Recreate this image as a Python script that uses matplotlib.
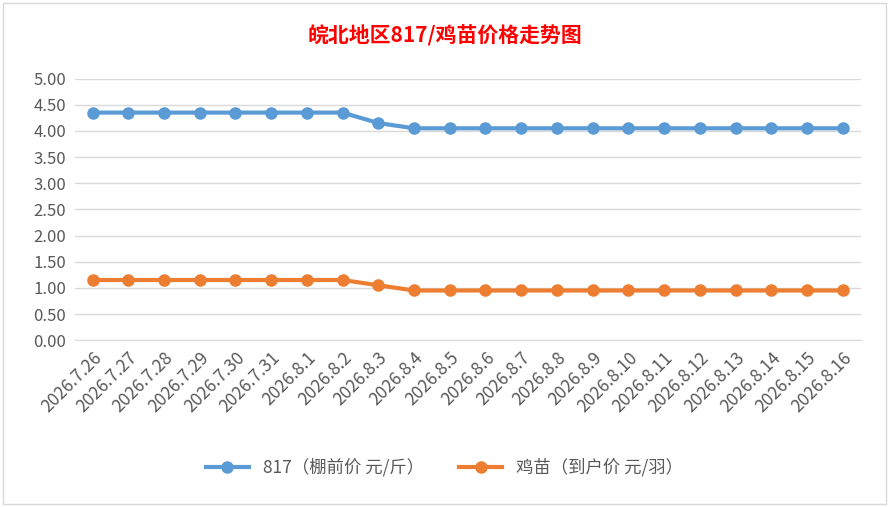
import matplotlib.pyplot as plt
import matplotlib.patches as patches

plt.rcParams['font.family'] = ['Noto Sans CJK SC', 'DejaVu Sans']

dates = ['2026.7.26', '2026.7.27', '2026.7.28', '2026.7.29', '2026.7.30', '2026.7.31',
         '2026.8.1', '2026.8.2', '2026.8.3', '2026.8.4', '2026.8.5', '2026.8.6',
         '2026.8.7', '2026.8.8', '2026.8.9', '2026.8.10', '2026.8.11', '2026.8.12',
         '2026.8.13', '2026.8.14', '2026.8.15', '2026.8.16']
price_817 = [4.35] * 8 + [4.15] + [4.05] * 13
price_chick = [1.15] * 8 + [1.05] + [0.95] * 13

fig = plt.figure(figsize=(8.89, 5.07), dpi=100)
ax = fig.add_axes([0.084, 0.329, 0.884, 0.516])

x = range(len(dates))
ax.plot(x, price_817, color='#5b9bd5', lw=3, marker='o', ms=8, label='817（棚前价 元/斤）')
ax.plot(x, price_chick, color='#ed7d31', lw=3, marker='o', ms=8, label='鸡苗（到户价 元/羽）')

ax.set_ylim(0, 5)
ax.set_yticks([i * 0.5 for i in range(11)])
ax.set_yticklabels([f'{i * 0.5:.2f}' for i in range(11)], fontsize=12, color='#595959')
ax.set_xlim(-0.5, len(dates) - 0.5)
ax.set_xticks(list(x))
ax.set_xticklabels(dates, rotation=45, ha='right', rotation_mode='anchor', fontsize=12.5, color='#595959')
ax.grid(axis='y', color='#d9d9d9', lw=1)
ax.set_axisbelow(True)
ax.tick_params(length=0, pad=6)
for s in ['top', 'right', 'left']:
    ax.spines[s].set_visible(False)
ax.spines['bottom'].set_color('#d9d9d9')

fig.text(0.5, 0.93, '皖北地区817/鸡苗价格走势图', ha='center', va='center',
         fontsize=15, fontweight='bold', color='#ff0000')
fig.legend(loc='center', bbox_to_anchor=(0.5, 0.078), ncol=2, frameon=False,
           fontsize=12.5, labelcolor='#595959', handlelength=2.5, columnspacing=2.0)
fig.patches.append(patches.Rectangle((0.003, 0.005), 0.994, 0.99, transform=fig.transFigure,
                                     fill=False, edgecolor='#d9d9d9', lw=1))

fig.savefig('out.png', dpi=100)
